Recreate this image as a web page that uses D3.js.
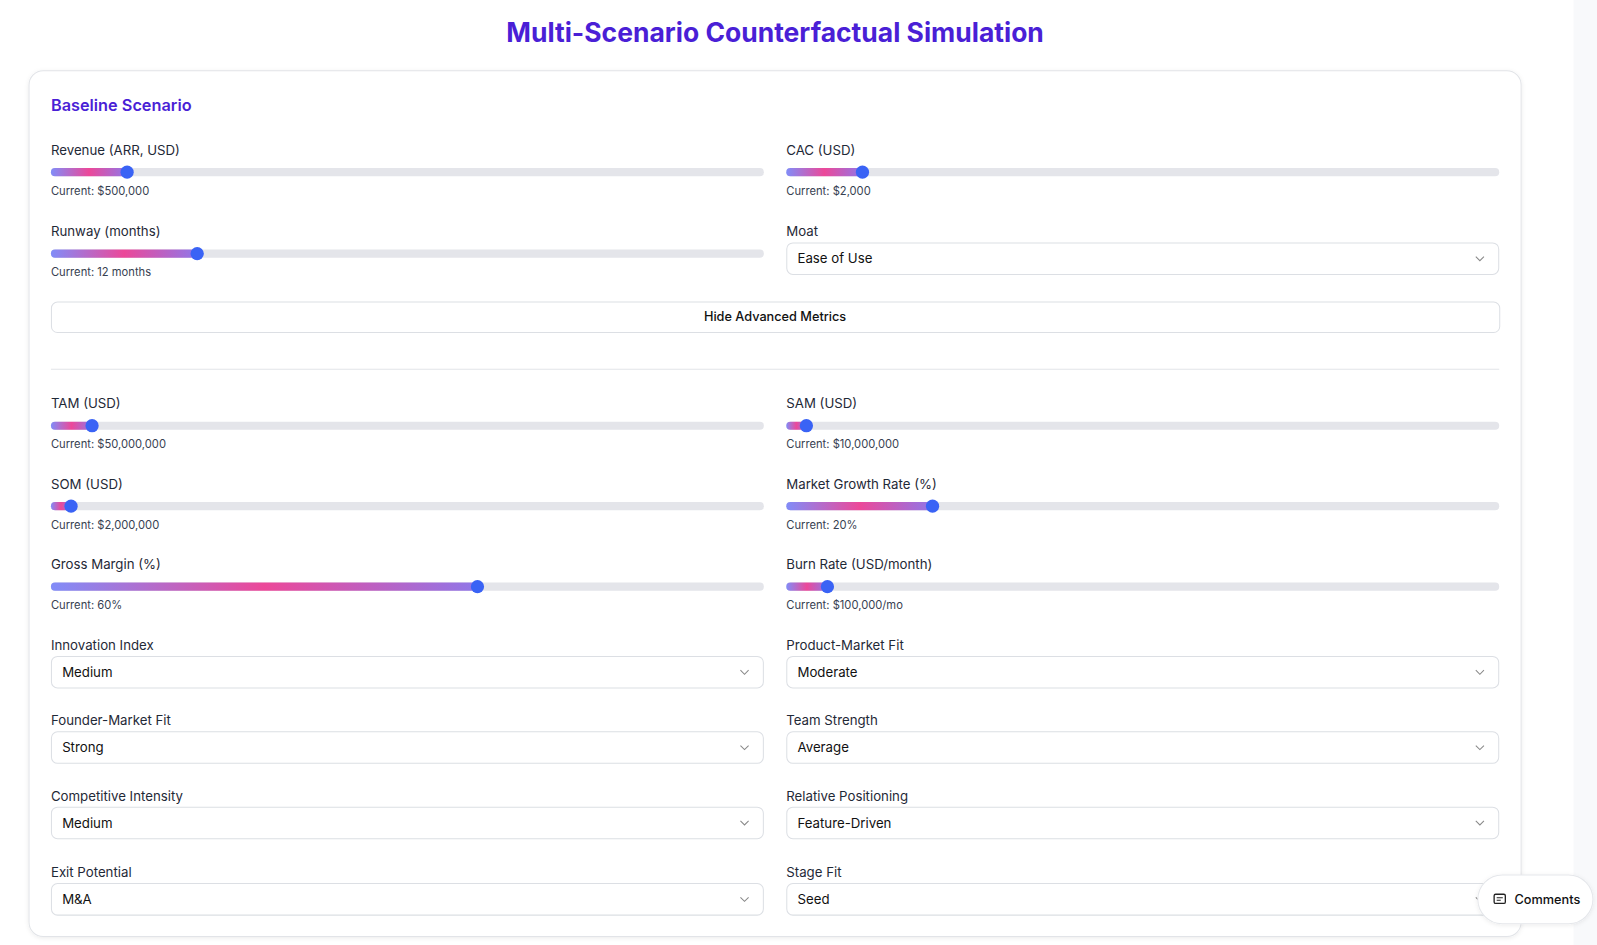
<!DOCTYPE html>
<html><head><meta charset="utf-8">
<script src="https://cdn.jsdelivr.net/npm/d3@7"></script>
<style>body{margin:0;background:#fff;font-family:Inter,"Noto Sans",sans-serif}</style>
</head><body>
<script>
const title = "Multi-Scenario Counterfactual Simulation";
const sliderLabels = ["Revenue (ARR, USD)","CAC (USD)","Runway (months)","TAM (USD)","SAM (USD)","SOM (USD)","Market Growth Rate (%)","Gross Margin (%)","Burn Rate (USD/month)"];
const sliderValues = [500000,2000,12,50000000,10000000,2000000,20,60,100000];
const sliderMax = [5000000,20000,60,1000000000,500000000,100000000,100,100,2000000];
const sliderText = ["$500,000","$2,000","12 months","$50,000,000","$10,000,000","$2,000,000","20%","60%","$100,000/mo"];
const sliderSlot = [[0,0],[1,0],[0,1],[0,2],[1,2],[0,3],[1,3],[0,4],[1,4]];
const selectLabels = ["Moat","Innovation Index","Product-Market Fit","Founder-Market Fit","Team Strength","Competitive Intensity","Relative Positioning","Exit Potential","Stage Fit"];
const selectValues = ["Ease of Use","Medium","Moderate","Strong","Average","Medium","Feature-Driven","M&A","Seed"];
const selectLabelY = [227,633,633,707,707,781,781,856,856];
const selectCol = [1,0,1,0,1,0,1,0,1];

const W=1597,H=945,K=1597/1568;
const root=d3.select("body").append("svg").attr("width",W).attr("height",H);
const defs=root.append("defs");
const g=defs.append("linearGradient").attr("id","fillg");
[["0%","#818cf8"],["50%","#ec4899"],["100%","#9077e8"]].forEach(([o,c])=>g.append("stop").attr("offset",o).attr("stop-color",c));
const sh=defs.append("filter").attr("id","sh").attr("x","-20%").attr("y","-20%").attr("width","140%").attr("height","140%");
sh.append("feDropShadow").attr("dx",0).attr("dy",1).attr("stdDeviation",2).attr("flood-color","#000").attr("flood-opacity",0.08);
const svg=root.append("g").attr("transform",`scale(${K})`);

svg.append("rect").attr("x",1545).attr("y",0).attr("width",60).attr("height",H).attr("fill","#f8f9fb");
svg.append("text").attr("x",761).attr("y",41).attr("text-anchor","middle").attr("font-size",26).attr("font-weight",700).attr("fill","#4a1fd6").text(title);
svg.append("rect").attr("x",28.5).attr("y",69.5).attr("width",1465).attr("height",850).attr("rx",14).attr("fill","#fff").attr("stroke","#e2e4e8").attr("filter","url(#sh)");
svg.append("text").attr("x",50).attr("y",109).attr("font-size",16).attr("font-weight",600).attr("fill","#4a1fd6").text("Baseline Scenario");

const colX=[50,772], colW=700;
const rowY=[147,227,396,475,554];
sliderLabels.forEach((lab,i)=>{
  const [c,r]=sliderSlot[i]; const x0=colX[c], y=rowY[r];
  const sc=d3.scaleLinear().domain([0,sliderMax[i]]).range([x0+6,x0+colW-6]);
  const tx=sc(sliderValues[i]);
  svg.append("text").attr("x",x0).attr("y",y+5).attr("font-size",13).attr("fill","#1f2937").text(lab);
  const ty=y+22;
  svg.append("rect").attr("x",x0).attr("y",ty-4).attr("width",colW).attr("height",8).attr("rx",4).attr("fill","#e4e5ea");
  svg.append("rect").attr("x",x0).attr("y",ty-4).attr("width",tx-x0).attr("height",8).attr("rx",4).attr("fill","url(#fillg)");
  svg.append("circle").attr("cx",tx).attr("cy",ty).attr("r",6.5).attr("fill","#3a63f5");
  svg.append("text").attr("x",x0).attr("y",y+44).attr("font-size",11).attr("fill","#374151").text("Current: "+sliderText[i]);
});

svg.append("rect").attr("x",50.5).attr("y",296.5).attr("width",1422).attr("height",30).attr("rx",6).attr("fill","#fff").attr("stroke","#dcdfe4");
svg.append("text").attr("x",761).attr("y",315).attr("text-anchor","middle").attr("font-size",12.5).attr("font-weight",500).attr("fill","#111").text("Hide Advanced Metrics");
svg.append("line").attr("x1",50).attr("x2",1472).attr("y1",362.5).attr("y2",362.5).attr("stroke","#e2e4e8");

selectLabels.forEach((lab,i)=>{
  const x0=colX[selectCol[i]], y=selectLabelY[i];
  svg.append("text").attr("x",x0).attr("y",y+5).attr("font-size",13).attr("fill","#1f2937").text(lab);
  const by=y+11;
  svg.append("rect").attr("x",x0+0.5).attr("y",by+0.5).attr("width",colW-1).attr("height",31).attr("rx",6).attr("fill","#fff").attr("stroke","#dcdfe4");
  svg.append("text").attr("x",x0+11).attr("y",by+20.5).attr("font-size",13).attr("fill","#111").text(selectValues[i]);
  const cx=x0+colW-19, cy=by+16;
  svg.append("path").attr("d",`M${cx-4},${cy-2}L${cx},${cy+2}L${cx+4},${cy-2}`).attr("fill","none").attr("stroke","#888").attr("stroke-width",1);
});

svg.append("rect").attr("x",1451).attr("y",859).attr("width",113).attr("height",48).attr("rx",24).attr("fill","#fff").attr("stroke","#e5e7eb").attr("filter","url(#sh)");
svg.append("rect").attr("x",1467).attr("y",878).attr("width",11).attr("height",9).attr("rx",1.5).attr("fill","none").attr("stroke","#222").attr("stroke-width",1.3);
svg.append("path").attr("d","M1469.5,881.5h6M1469.5,884h4").attr("stroke","#222").attr("stroke-width",1);
svg.append("text").attr("x",1487).attr("y",888).attr("font-size",12.5).attr("font-weight",500).attr("fill","#111").text("Comments");
</script>
</body></html>
